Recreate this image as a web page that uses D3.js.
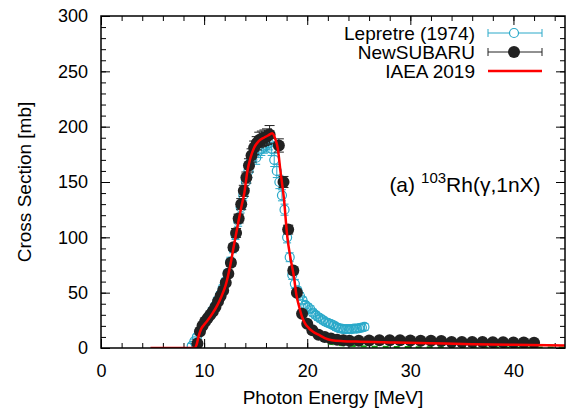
<!DOCTYPE html>
<html lang="en">
<head>
    <meta charset="UTF-8">
    <script type="text/javascript" src="https://cdn.jsdelivr.net/npm/d3@7/dist/d3.min.js"></script>
    <title>103Rh(g,1nX)</title>
    <style>
        body { margin: 0; background: #fff; }
        text { font-family: "Liberation Sans", Arial, sans-serif; }
    </style>
</head>
<body>
</body>
<script>

    // Lepretre (1974): [energy MeV, cross section mb, error]
    let lepretre = [
        [8.8, 2, 2], [9.05, 6, 2], [9.3, 10, 2], [9.55, 15, 2], [9.8, 19, 2], [10.05, 23, 2],
        [10.3, 26, 2], [10.55, 30, 2], [10.8, 34, 2], [11.05, 38, 2], [11.3, 43, 3], [11.55, 48, 3],
        [11.8, 54, 3], [12.05, 60, 3], [12.3, 68, 3], [12.55, 78, 4], [12.8, 90, 4], [13.05, 102, 4],
        [13.3, 115, 5], [13.55, 127, 5], [13.8, 138, 5], [14.05, 150, 6], [14.3, 160, 6], [14.55, 170, 6],
        [14.8, 176, 6], [15.05, 172, 6], [15.3, 178, 6], [15.55, 180, 6], [15.8, 182, 6], [16.05, 183, 6],
        [16.3, 185, 6], [16.55, 180, 6], [16.8, 170, 6], [17.05, 160, 6], [17.3, 150, 6], [17.55, 138, 5],
        [17.8, 125, 5], [18.05, 100, 5], [18.3, 82, 4], [18.55, 66, 4], [18.8, 58, 4], [19.05, 52, 3],
        [19.3, 47, 3], [19.55, 43, 3], [19.8, 39, 3], [20.05, 37, 3], [20.3, 35, 3], [20.55, 32, 3],
        [20.8, 30, 3], [21.05, 28, 3], [21.3, 26.5, 3], [21.55, 25, 3], [21.8, 23.5, 3], [22.05, 22.5, 3],
        [22.3, 21.5, 3], [22.55, 20.5, 3], [22.8, 19, 3], [23.05, 18, 3], [23.3, 17.5, 3], [23.55, 17, 3],
        [23.8, 17, 3], [24.05, 17, 3], [24.3, 17, 3], [24.55, 17.5, 3], [24.8, 17.5, 3], [25.05, 18, 3],
        [25.3, 18.5, 3], [25.55, 19, 3]
    ];

    // NewSUBARU: [energy MeV, cross section mb, error]
    let newSubaru = [
        [9.35, 4, 1], [9.6, 15, 1], [9.85, 20, 1], [10.1, 24, 1], [10.35, 27, 1], [10.6, 30, 1],
        [10.85, 33, 1.5], [11.1, 37, 1.5], [11.35, 42, 1.5], [11.6, 47, 2], [11.85, 52, 2], [12.1, 59, 2],
        [12.35, 67, 2.5], [12.6, 77, 3], [12.85, 91, 3], [13.1, 104, 4], [13.35, 117, 4], [13.6, 130, 5],
        [13.85, 142, 5], [14.1, 154, 5], [14.35, 165, 6], [14.6, 174, 6], [14.85, 181, 6], [15.1, 185, 6],
        [15.35, 188, 7], [15.6, 189, 7], [15.85, 190, 7], [16.1, 191, 7], [16.35, 193, 8],
        [17.25, 183, 6], [17.7, 150, 5], [18.15, 107, 4], [18.65, 70, 3], [19.0, 50, 2], [19.5, 31, 1.5],
        [20.0, 22, 1], [20.5, 16, 1], [21.1, 12, 1], [21.7, 10, 1], [22.3, 8.5, 1], [22.9, 7.5, 1],
        [23.5, 7, 1], [24.1, 6.5, 1], [25, 6.5, 1], [26, 6.8, 1], [27, 7, 1], [28, 7, 1], [29, 7, 1],
        [30, 6.8, 1], [31, 6.5, 1], [32, 6.5, 1], [33, 6.3, 1], [34, 5.5, 1], [35, 5.5, 1], [36, 5.5, 1],
        [37, 5.5, 1], [38, 5.3, 1], [39, 5.3, 1], [40, 5, 1], [41, 5, 1], [42, 4.8, 1]
    ];

    // IAEA 2019 evaluation: [energy MeV, cross section mb]
    let iaea = [
        [4.8, 0], [9.1, 0], [9.3, 4], [9.45, 10], [9.7, 17], [10.0, 21], [10.35, 25], [10.8, 31],
        [11.3, 39], [11.7, 47], [12.1, 57], [12.5, 73], [12.9, 93], [13.3, 113], [13.6, 127],
        [13.9, 140], [14.2, 160], [14.5, 172], [14.85, 181], [15.3, 187], [15.8, 190], [16.2, 192],
        [16.6, 194], [16.9, 189], [17.15, 180], [17.4, 160], [17.75, 134], [18.05, 102], [18.4, 80],
        [18.7, 65], [18.95, 48], [19.2, 38], [19.5, 28], [19.8, 22], [20.15, 18], [20.6, 14.5],
        [21.1, 12], [21.7, 9], [22.4, 7], [23.5, 6.2], [24.7, 5.8], [28.5, 5], [32, 4.3], [36, 3.5],
        [40, 2.9], [45, 2.3]
    ];

    // dashed green component near zero
    let green = [[22, 4], [23, 2.8], [24, 2], [26, 1.2], [30, 0.8], [36, 0.6], [45, 0.5]];

    let legendItems = ["Lepretre (1974)", "NewSUBARU", "IAEA 2019"];
    let xTicks = [0, 10, 20, 30, 40];
    let yTicks = [0, 50, 100, 150, 200, 250, 300];

    let width = 566, height = 412;
    let mLeft = 101, mRight = 565, mTop = 16, mBottom = 348;
    let cyan = "#2aa9c9", dark = "#222222", red = "#ff0000";

    let svg = d3.select("body").append("svg")
        .attr("width", width)
        .attr("height", height);

    let x = d3.scaleLinear().domain([0, 45]).range([mLeft, mRight]);
    let y = d3.scaleLinear().domain([0, 300]).range([mBottom, mTop]);

    svg.append("clipPath").attr("id", "plot")
        .append("rect")
        .attr("x", mLeft).attr("y", mTop)
        .attr("width", mRight - mLeft).attr("height", mBottom - mTop);

    // axes, ticks pointing inward on all four sides
    function styleAxis(g) {
        g.select(".domain").remove();
        g.selectAll("line").attr("stroke", "#000").attr("stroke-width", 1);
        g.selectAll("text").attr("font-size", 18).attr("fill", "#000");
    }
    let xMinor = d3.range(0, 46, 2), yMinor = d3.range(0, 301, 10);

    svg.append("g").attr("transform", `translate(0,${mBottom})`)
        .call(d3.axisBottom(x).tickValues(xMinor).tickSize(-5).tickFormat(""))
        .call(styleAxis);
    svg.append("g").attr("transform", `translate(0,${mBottom})`)
        .call(d3.axisBottom(x).tickValues(xTicks).tickSize(-9).tickPadding(16).tickFormat(d3.format("d")))
        .call(styleAxis);
    svg.append("g").attr("transform", `translate(0,${mTop})`)
        .call(d3.axisTop(x).tickValues(xMinor).tickSize(-5).tickFormat(""))
        .call(styleAxis);
    svg.append("g").attr("transform", `translate(0,${mTop})`)
        .call(d3.axisTop(x).tickValues(xTicks).tickSize(-9).tickFormat(""))
        .call(styleAxis);
    svg.append("g").attr("transform", `translate(${mLeft},0)`)
        .call(d3.axisLeft(y).tickValues(yMinor).tickSize(-5).tickFormat(""))
        .call(styleAxis);
    svg.append("g").attr("transform", `translate(${mLeft},0)`)
        .call(d3.axisLeft(y).tickValues(yTicks).tickSize(-9).tickPadding(13).tickFormat(d3.format("d")))
        .call(styleAxis);
    svg.append("g").attr("transform", `translate(${mRight},0)`)
        .call(d3.axisRight(y).tickValues(yMinor).tickSize(-5).tickFormat(""))
        .call(styleAxis);
    svg.append("g").attr("transform", `translate(${mRight},0)`)
        .call(d3.axisRight(y).tickValues(yTicks).tickSize(-9).tickFormat(""))
        .call(styleAxis);

    let plot = svg.append("g").attr("clip-path", "url(#plot)");

    let line = d3.line().x(d => x(d[0])).y(d => y(d[1]));

    // green dashed
    plot.append("path").datum(green)
        .attr("d", line)
        .attr("fill", "none")
        .attr("stroke", "#14a014")
        .attr("stroke-width", 2)
        .attr("stroke-dasharray", "6,5");

    function drawErrors(data, color, cap) {
        let g = plot.append("g").attr("stroke", color).attr("stroke-width", 1);
        g.selectAll(".eb").data(data).join("path")
            .attr("d", d => {
                let cx = x(d[0]), y0 = y(d[1] - d[2]), y1 = y(d[1] + d[2]);
                return `M${cx},${y0}V${y1}M${cx - cap},${y0}H${cx + cap}M${cx - cap},${y1}H${cx + cap}`;
            });
    }

    // Lepretre
    drawErrors(lepretre, cyan, 4);
    plot.append("g").selectAll("circle").data(lepretre).join("circle")
        .attr("cx", d => x(d[0]))
        .attr("cy", d => y(d[1]))
        .attr("r", 4.5)
        .attr("fill", "none")
        .attr("stroke", cyan)
        .attr("stroke-width", 1.2);

    // NewSUBARU
    drawErrors(newSubaru, dark, 5);
    plot.append("g").selectAll("circle").data(newSubaru).join("circle")
        .attr("cx", d => x(d[0]))
        .attr("cy", d => y(d[1]))
        .attr("r", 6)
        .attr("fill", dark);

    // IAEA 2019
    plot.append("path").datum(iaea)
        .attr("d", d3.line().curve(d3.curveMonotoneX).x(d => x(d[0])).y(d => y(d[1])))
        .attr("fill", "none")
        .attr("stroke", red)
        .attr("stroke-width", 2.5);

    // frame
    svg.append("rect")
        .attr("x", mLeft).attr("y", mTop)
        .attr("width", mRight - mLeft).attr("height", mBottom - mTop)
        .attr("fill", "none")
        .attr("stroke", "#000")
        .attr("stroke-width", 1.5);

    // axis titles
    svg.append("text")
        .attr("x", (mLeft + mRight) / 2).attr("y", 404)
        .attr("text-anchor", "middle")
        .attr("font-size", 19)
        .text("Photon Energy [MeV]");
    svg.append("text")
        .attr("transform", `translate(31,${(mTop + mBottom) / 2}) rotate(-90)`)
        .attr("text-anchor", "middle")
        .attr("font-size", 19)
        .text("Cross Section [mb]");

    // legend
    let legend = svg.append("g");
    legendItems.forEach((name, i) => {
        let ly = 33 + i * 19;
        legend.append("text")
            .attr("x", 475).attr("y", ly + 7)
            .attr("text-anchor", "end")
            .attr("font-size", 19)
            .text(name);
        if (i < 2) {
            let c = i === 0 ? cyan : dark;
            legend.append("path")
                .attr("d", `M488,${ly}H542M488,${ly - 4}V${ly + 4}M542,${ly - 4}V${ly + 4}`)
                .attr("stroke", c).attr("stroke-width", 1);
            legend.append("circle")
                .attr("cx", 514).attr("cy", ly)
                .attr("r", i === 0 ? 4.5 : 6)
                .attr("fill", i === 0 ? "#fff" : dark)
                .attr("stroke", i === 0 ? cyan : "none")
                .attr("stroke-width", 1.2);
        } else {
            legend.append("line")
                .attr("x1", 488).attr("x2", 542)
                .attr("y1", ly).attr("y2", ly)
                .attr("stroke", red).attr("stroke-width", 2.5);
        }
    });

    // reaction label
    let label = svg.append("text")
        .attr("x", 465).attr("y", 192)
        .attr("text-anchor", "middle")
        .attr("font-size", 21);
    label.append("tspan").text("(a)");
    label.append("tspan").attr("font-size", 15).attr("dx", 6).attr("dy", -9).text("103");
    label.append("tspan").attr("dy", 9).text("Rh(γ,1nX)");

</script>
</html>
